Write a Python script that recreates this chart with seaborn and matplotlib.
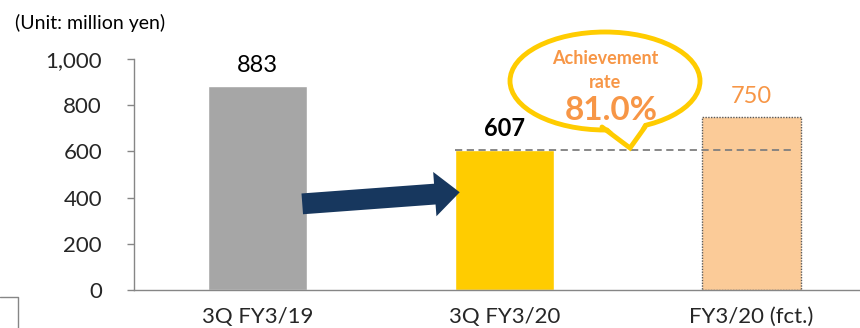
import matplotlib
matplotlib.use("Agg")
import matplotlib.pyplot as plt
import seaborn as sns
import pandas as pd
from matplotlib.patches import Ellipse, Polygon, FancyArrowPatch
from matplotlib.lines import Line2D

# Data
categories = ["3Q FY3/19", "3Q FY3/20", "FY3/20 (fct.)"]
values = [883, 607, 750]
bar_colors = ["#A6A6A6", "#FFCC00", "#FBCB98"]
label_colors = ["#000000", "#000000", "#F79646"]
label_weights = ["normal", "bold", "normal"]
achievement_rate = 81.0
yticks = [0, 200, 400, 600, 800, 1000]
ytick_labels = ["0", "200", "400", "600", "800", "1,000"]
unit_text = "(Unit: million yen)"

sns.set_theme(style="white")
plt.rcParams["font.family"] = ["Lato", "DejaVu Sans"]

W, H = 860, 328
fig = plt.figure(figsize=(W / 100, H / 100), dpi=100)
ax = fig.add_axes([134 / W, (H - 290) / H, 741 / W, 231 / H])

df = pd.DataFrame({"cat": categories, "val": values})
sns.barplot(data=df, x="cat", y="val", hue="cat", palette=bar_colors,
            width=0.4, ax=ax, legend=False, saturation=1)

# dotted outline on the forecast bar
fc_bar = ax.patches[2]
fc_bar.set_edgecolor("#595959")
fc_bar.set_linestyle((0, (1, 1)))
fc_bar.set_linewidth(1.0)

ax.set_xlim(-0.5, 2.5)
ax.set_ylim(0, 1000)
ax.set_xlabel("")
ax.set_ylabel("")
ax.set_yticks(yticks)
ax.set_yticklabels(ytick_labels, fontsize=16)
ax.set_xticks(range(len(categories)))
ax.set_xticklabels(categories, fontsize=16)
ax.set_xticks([-0.5, 0.5, 1.5, 2.5], minor=True)
ax.tick_params(axis="x", which="major", length=0, pad=12)
ax.tick_params(axis="x", which="minor", length=7, color="#868686", width=1, direction="out")
ax.tick_params(axis="y", length=5, color="#868686", width=1, direction="out", pad=18)
ax.tick_params(axis="both", bottom=True, left=True)
for s in ["top", "right"]:
    ax.spines[s].set_visible(False)
for s in ["left", "bottom"]:
    ax.spines[s].set_color("#868686")
    ax.spines[s].set_linewidth(1)

# value labels
for i, (v, c, w) in enumerate(zip(values, label_colors, label_weights)):
    ax.annotate(f"{v:,}", (i, v), xytext=(0, 10), textcoords="offset points",
                ha="center", va="baseline", fontsize=17, color=c, fontweight=w)

# reference line at the 3Q FY3/20 level
ax.plot([0.8, 2.17], [values[1], values[1]], color="#7F7F7F", lw=1.3,
        ls=(0, (4, 2.5)), zorder=5)

# growth arrow
arrow = FancyArrowPatch((0.17, 372), (0.83, 424),
                        arrowstyle="simple,head_width=3.2,head_length=1.8,tail_width=1.5",
                        mutation_scale=10, color="#17375E", lw=0, zorder=6)
ax.add_patch(arrow)

# speech bubble with the achievement rate
tf = fig.transFigure
def fx(px):
    return px / W
def fy(py):
    return 1 - py / H

bubble = Ellipse((fx(605), fy(81)), 190 / W, 98 / H, transform=tf,
                 facecolor="white", edgecolor="#FFCC00", lw=3.5, zorder=10)
fig.patches.append(bubble)
tail = Polygon([(fx(603), fy(123)), (fx(630), fy(148)), (fx(644), fy(123))],
               closed=True, transform=tf, facecolor="white", edgecolor="none", zorder=11)
fig.patches.append(tail)
fig.lines.append(Line2D([fx(602), fx(630), fx(645)], [fy(127), fy(148), fy(127)],
                        transform=tf, color="#FFCC00", lw=3.5, zorder=12,
                        solid_joinstyle="miter"))

fig.text(fx(605), fy(58), "Achievement", ha="center", va="center",
         fontsize=13, fontweight="bold", color="#F79646", zorder=13)
fig.text(fx(605), fy(82), "rate", ha="center", va="center",
         fontsize=13, fontweight="bold", color="#F79646", zorder=13)
fig.text(fx(611), fy(110), f"{achievement_rate:.1f}%", ha="center", va="center",
         fontsize=24, fontweight="bold", color="#F79646", zorder=13)

fig.text(fx(15), fy(23), unit_text, ha="left", va="center", fontsize=14, color="#000000")

# small corner mark at the lower left
fig.lines.append(Line2D([fx(0), fx(18), fx(18)], [fy(297), fy(297), fy(328)],
                        transform=tf, color="#868686", lw=1))

fig.savefig("out.png", dpi=100)
